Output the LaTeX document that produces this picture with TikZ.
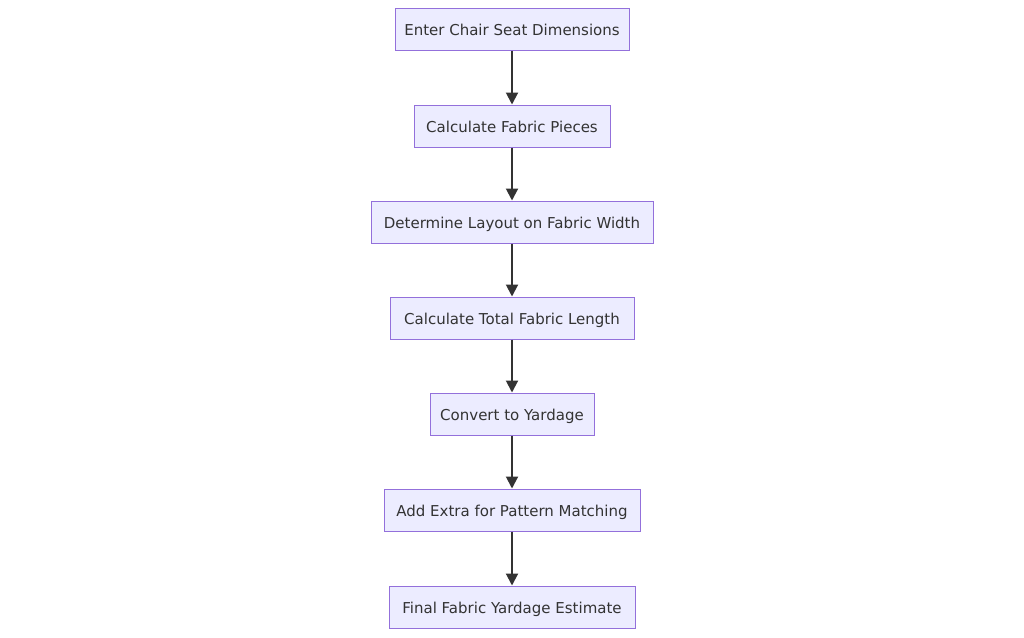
\documentclass[tikz,border=0pt]{standalone}
\usepackage{fontspec}
\setmainfont{DejaVu Sans}
\usetikzlibrary{arrows.meta}
\definecolor{nodefill}{HTML}{ECECFF}
\definecolor{nodeline}{HTML}{9370DB}
\definecolor{txt}{HTML}{333333}
\begin{document}
\begin{tikzpicture}[x=1pt,y=-1pt,
  box/.style={draw=nodeline,fill=nodefill,line width=1pt,text=txt,inner sep=0pt,
    minimum height=42pt,text height=14pt,text depth=1pt,font=\fontsize{15}{18}\selectfont},
  flow/.style={draw=txt,line width=2pt,-{Triangle[length=12pt,width=12pt]}}]
\useasboundingbox (0,0) rectangle (1024,637);
\node[box,minimum width=234pt] (n1) at (512,29) {Enter Chair Seat Dimensions};
\node[box,minimum width=196pt] (n2) at (512,126) {Calculate Fabric Pieces};
\node[box,minimum width=282pt] (n3) at (512,222) {Determine Layout on Fabric Width};
\node[box,minimum width=244pt] (n4) at (512,318) {Calculate Total Fabric Length};
\node[box,minimum width=164pt] (n5) at (512,414) {Convert to Yardage};
\node[box,minimum width=256pt] (n6) at (512,510) {Add Extra for Pattern Matching};
\node[box,minimum width=246pt] (n7) at (512,607) {Final Fabric Yardage Estimate};
\draw[flow] (n1) -- (n2);
\draw[flow] (n2) -- (n3);
\draw[flow] (n3) -- (n4);
\draw[flow] (n4) -- (n5);
\draw[flow] (n5) -- (n6);
\draw[flow] (n6) -- (n7);
\end{tikzpicture}
\end{document}
